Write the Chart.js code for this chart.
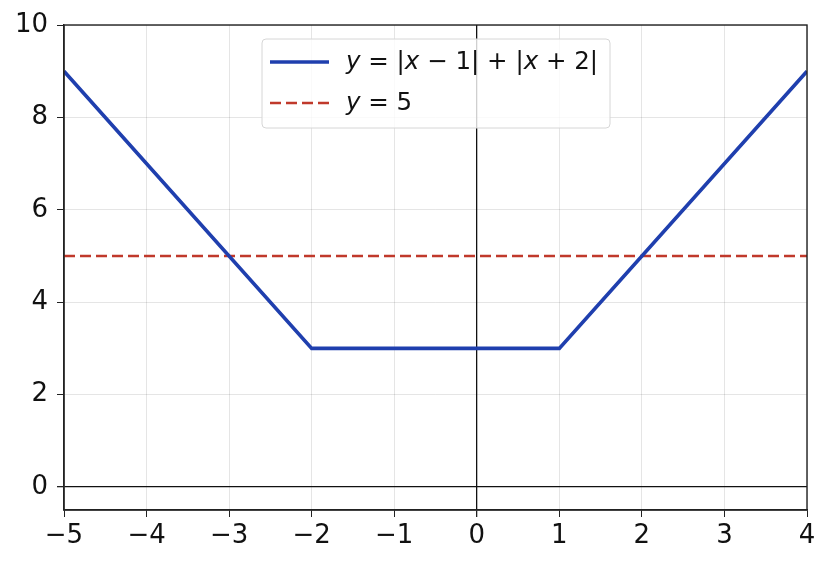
<!DOCTYPE html>
<html><head><meta charset="utf-8">
<script src="https://cdn.jsdelivr.net/npm/chart.js@4.4.1/dist/chart.umd.min.js"></script>
<style>html,body{margin:0;padding:0;background:#fff}#wrap{width:831px;height:567px}</style>
</head><body><div id="wrap"><canvas id="c" width="831" height="567"></canvas></div>
<script>
const absX = [-5, -2, 1, 4];
const absY = [9, 3, 3, 9];
const lineX = [-5, 4];
const lineY = [5, 5];
const xTicks = [-5, -4, -3, -2, -1, 0, 1, 2, 3, 4];
const yTicks = [0, 2, 4, 6, 8, 10];
const labels = ['y = |x − 1| + |x + 2|', 'y = 5'];

const FONT = '"DejaVu Sans", sans-serif';
const fmt = v => (v < 0 ? '\u2212' + Math.abs(v) : String(v));

function drawMath(ctx, text, x, y, size) {
  let cx = x;
  for (const ch of text) {
    const italic = /[a-z]/.test(ch);
    ctx.font = (italic ? 'italic ' : '') + size + 'px ' + FONT;
    ctx.fillText(ch, cx, y);
    cx += ctx.measureText(ch).width;
  }
}

const frame = {
  id: 'frame',
  afterDatasetsDraw(chart) {
    const { ctx, chartArea: a } = chart;
    ctx.save();
    ctx.strokeStyle = '#222';
    ctx.lineWidth = 1.4;
    ctx.strokeRect(a.left, a.top, a.right - a.left, a.bottom - a.top);
    ctx.restore();
  },
  afterDraw(chart) {
    const { ctx } = chart;
    const bx = 262, by = 39, bw = 348, bh = 89;
    ctx.save();
    ctx.fillStyle = 'rgba(255,255,255,0.8)';
    ctx.strokeStyle = '#d6d6d6';
    ctx.lineWidth = 1;
    ctx.beginPath();
    ctx.roundRect(bx, by, bw, bh, 4);
    ctx.fill();
    ctx.stroke();
    const rows = [62, 103];
    chart.data.datasets.forEach((ds, i) => {
      const yy = rows[i];
      ctx.strokeStyle = ds.borderColor;
      ctx.lineWidth = ds.borderWidth;
      ctx.setLineDash(ds.borderDash || []);
      ctx.beginPath();
      ctx.moveTo(270, yy);
      ctx.lineTo(329, yy);
      ctx.stroke();
      ctx.setLineDash([]);
      ctx.fillStyle = '#111';
      ctx.textBaseline = 'middle';
      drawMath(ctx, ds.label, 346, yy + 1, 24.5);
    });
    ctx.restore();
  }
};

new Chart(document.getElementById('c'), {
  type: 'line',
  data: {
    datasets: [
      {
        label: labels[0],
        data: absX.map((x, i) => ({ x, y: absY[i] })),
        borderColor: '#1f3fae',
        borderWidth: 3.6,
        pointRadius: 0,
        tension: 0,
        fill: false
      },
      {
        label: labels[1],
        data: lineX.map((x, i) => ({ x, y: lineY[i] })),
        borderColor: '#c0392b',
        borderWidth: 2.4,
        borderDash: [11, 5],
        pointRadius: 0,
        tension: 0,
        fill: false
      }
    ]
  },
  options: {
    responsive: false,
    animation: false,
    devicePixelRatio: 1,
    layout: { padding: { top: 25, right: 24, left: 0, bottom: 0 } },
    plugins: { legend: { display: false }, tooltip: { enabled: false } },
    scales: {
      x: {
        type: 'linear',
        min: -5, max: 4,
        afterBuildTicks: s => { s.ticks = xTicks.map(v => ({ value: v })); },
        afterFit: s => { s.height = 57; },
        ticks: {
          callback: v => fmt(v),
          color: '#111',
          font: { family: FONT, size: 26 },
          padding: 4,
          maxRotation: 0,
          autoSkip: false
        },
        grid: {
          color: c => (c.tick && c.tick.value === 0 ? '#111' : 'rgba(0,0,0,0.1)'),
          lineWidth: c => (c.tick && c.tick.value === 0 ? 1.3 : 1),
          tickColor: '#222',
          tickLength: 7,
          drawTicks: true
        },
        border: { color: '#222', width: 1.4 }
      },
      y: {
        type: 'linear',
        min: -0.5, max: 10,
        afterBuildTicks: s => { s.ticks = yTicks.map(v => ({ value: v })); },
        afterFit: s => { s.width = 64; },
        ticks: {
          callback: v => fmt(v),
          color: '#111',
          font: { family: FONT, size: 26 },
          padding: 9,
          autoSkip: false
        },
        grid: {
          color: c => (c.tick && c.tick.value === 0 ? '#111' : 'rgba(0,0,0,0.1)'),
          lineWidth: c => (c.tick && c.tick.value === 0 ? 1.3 : 1),
          tickColor: '#222',
          tickLength: 7,
          drawTicks: true
        },
        border: { color: '#222', width: 1.4 }
      }
    }
  },
  plugins: [frame]
});
</script>
</body></html>
